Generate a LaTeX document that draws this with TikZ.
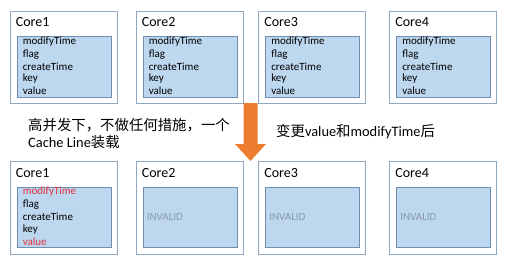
\documentclass[tikz,border=0pt]{standalone}
\usepackage{fontspec}
\setmainfont{Carlito}
\newfontfamily\cjk{Noto Sans CJK SC}
\begin{document}
\begin{tikzpicture}[x=1pt,y=-1pt,
  outerbox/.style={draw=boxedge,line width=0.8pt,fill=white,minimum width=107pt,minimum height=92pt,inner sep=0pt},
  innerbox/.style={draw=inneredge,line width=0.8pt,fill=innerfill,minimum width=94pt,minimum height=61pt,inner sep=0pt},
  corelabel/.style={anchor=west,font=\fontsize{14}{16}\selectfont,inner sep=0pt},
  field/.style={anchor=west,font=\fontsize{11}{12}\selectfont,inner sep=0pt},
  redfield/.style={field,text=redtext},
  invalid/.style={anchor=west,font=\fontsize{11}{12}\selectfont,text=invalidgray,inner sep=0pt},
  note/.style={anchor=west,font=\fontsize{14.4}{16}\selectfont,inner sep=0pt}]
\definecolor{boxedge}{HTML}{8FA8C0}
\definecolor{inneredge}{HTML}{6F8FB2}
\definecolor{innerfill}{HTML}{BDD7EE}
\definecolor{redtext}{HTML}{E2303C}
\definecolor{invalidgray}{HTML}{8A98A8}
\definecolor{arroworange}{HTML}{ED7D31}
\useasboundingbox (0,0) rectangle (508,263);
% top row
\foreach \i/\cx in {1/63.5,2/189.5,3/312,4/443}{
  \node[outerbox] (t\i) at (\cx,57) {};
  \node[corelabel] (tl\i) at ([xshift=6pt]t\i.west |- 0,22.5) {Core\i};
  \node[innerbox] (ti\i) at (\cx+0.5,66.5) {};
  \foreach \f [count=\k] in {modifyTime,flag,createTime,key,value}{
    \node[field] (tf\i-\k) at ([xshift=6pt]ti\i.west |- 0,{29.8+12.2*\k}) {\f};
  }
}
% bottom row
\node[outerbox,minimum height=93pt] (b1) at (63.5,207.5) {};
\node[corelabel] (bl1) at ([xshift=6pt]b1.west |- 0,172.5) {Core1};
\node[innerbox,minimum height=60pt] (bi1) at (64,217) {};
\node[redfield] (bf1) at ([xshift=6pt]bi1.west |- 0,192) {modifyTime};
\node[field] (bf2) at ([xshift=6pt]bi1.west |- 0,204.5) {flag};
\node[field] (bf3) at ([xshift=6pt]bi1.west |- 0,217) {createTime};
\node[field] (bf4) at ([xshift=6pt]bi1.west |- 0,229.5) {key};
\node[redfield] (bf5) at ([xshift=6pt]bi1.west |- 0,242) {value};
\foreach \i/\cx in {2/189.5,3/312,4/443}{
  \node[outerbox,minimum height=93pt] (b\i) at (\cx,207.5) {};
  \node[corelabel] (bl\i) at ([xshift=6pt]b\i.west |- 0,172.5) {Core\i};
  \node[innerbox,minimum height=60pt] (bi\i) at (\cx+0.5,217) {};
  \node[invalid] (bv\i) at ([xshift=4pt]bi\i.west) {INVALID};
}
% arrow
\coordinate (atop) at (250.5,103);
\coordinate (atip) at (250.5,161);
\fill[arroworange] ([xshift=-7pt]atop) -- ([xshift=7pt]atop) -- ([xshift=7pt]atop |- 0,144) -- ([xshift=15.5pt]atop |- 0,144) -- (atip) -- ([xshift=-15.5pt]atop |- 0,144) -- ([xshift=-7pt]atop |- 0,144) -- cycle;
% notes
\node[note] (n1) at (28,125) {{\cjk 高并发下，不做任何措施，一个}};
\node[note] (n2) at (28,142) {Cache Line{\cjk 装载}};
\node[note] (n3) at (276,132) {{\cjk 变更}value{\cjk 和}modifyTime{\cjk 后}};
\end{tikzpicture}
\end{document}
